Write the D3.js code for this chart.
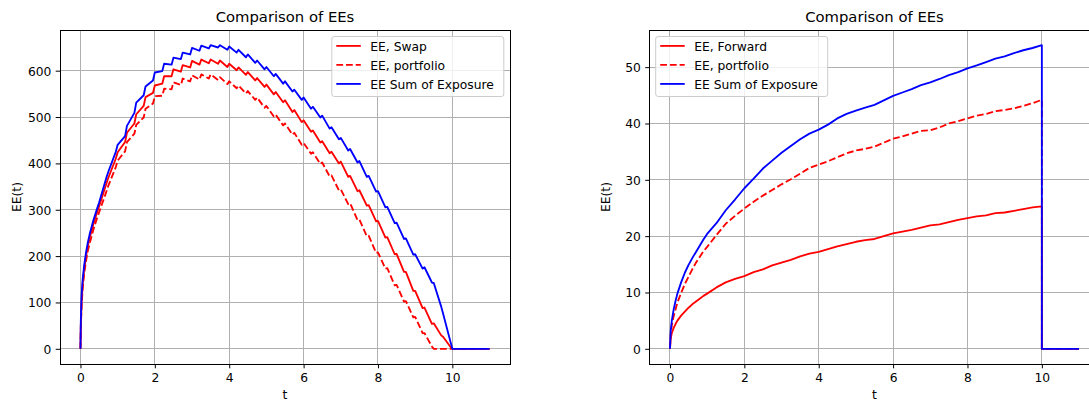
<!DOCTYPE html>
<html>
<head>
<meta charset="utf-8">
<script src="https://cdn.jsdelivr.net/npm/d3@7"></script>
<style>
  html, body { margin: 0; padding: 0; background: #ffffff; }
  svg { display: block; font-family: "DejaVu Sans", sans-serif; }
</style>
</head>
<body>
<svg id="chart" width="1089" height="400"></svg>
<script>
// ---- Swap panel: time grid and expected exposures ----
const swapTime = [0,0.01,0.03,0.06,0.1,0.15,0.2,0.25,0.35,0.45,
  0.5,0.7,0.75,0.95,1,1.2,1.25,1.45,1.5,1.7,1.75,1.95,2,2.2,2.25,2.45,2.5,2.7,2.75,2.95,
  3,3.2,3.25,3.45,3.5,3.7,3.75,3.95,4,4.2,4.25,4.45,4.5,4.7,4.75,4.95,5,5.2,5.25,5.45,
  5.5,5.7,5.75,5.95,6,6.2,6.25,6.45,6.5,6.7,6.75,6.95,7,7.2,7.25,7.45,7.5,7.7,7.75,7.95,
  8,8.2,8.25,8.45,8.5,8.7,8.75,8.95,9,9.2,9.25,9.45,9.5,9.7,9.75,9.95,10,11];
const eeSwap = [0,50,100,140,172,200,222,240,270,295,
  307,357,369,410,424,446,466,486,506,524,543,552,568,572,588,588,603,598,612,607,
  621,613,624,616,624,615,622,608,615,601,607,591,597,579,584,565,570,549,554,532,
  536,511,515,489,493,468,471,445,448,422,425,400,404,371,373,340,342,309,310,275,
  276,240,241,204,205,166,166,125,125,88,89,54,55,29,26,4,0,0];
const eeSwapPortfolio = [0,45,92,130,162,190,212,228,258,283,
  294,340,352,392,406,426,446,464,483,499,518,529,545,546,561,560,575,569,583,577,
  590,581,592,583,592,580,586,571,577,562,568,551,556,537,542,520,524,501,505,482,
  486,462,466,440,444,421,424,399,402,372,374,342,344,312,314,278,279,243,244,207,
  208,173,174,137,138,102,103,68,69,34,34,5,0,0,0,0,0,0];
const eeSwapSum = [0,60,115,150,180,208,230,248,278,303,
  315,370,382,425,440,459,481,509,531,547,566,579,596,599,615,613,628,625,639,635,
  649,643,654,648,655,650,655,645,652,639,645,629,635,617,622,603,608,588,593,572,
  577,555,559,537,542,518,522,499,503,475,478,452,455,428,431,402,405,371,373,339,
  340,305,306,271,272,237,238,203,204,173,176,143,142,91,76,15,0,0];

// ---- Forward panel: time grid and expected exposures ----
const fwdTime = [0,0.02,0.05,0.1,0.15,0.2,0.3,0.4,0.5,0.6,0.7,0.8,0.9,
  1,1.25,1.5,1.75,2,2.25,2.5,2.75,3,3.25,3.5,3.75,4,4.25,4.5,4.75,5,5.25,5.5,5.75,
  6,6.25,6.5,6.75,7,7.25,7.5,7.75,8,8.25,8.5,8.75,9,9.25,9.5,9.75,10,10,11];
const eeForward = [0,1.8,2.8,3.7,4.4,5.0,5.9,6.6,7.3,7.9,8.4,8.9,9.4,
  9.8,10.9,11.8,12.4,12.9,13.6,14.1,14.8,15.3,15.8,16.4,16.9,17.2,17.7,18.2,18.6,19.0,19.3,19.5,20.0,
  20.5,20.8,21.1,21.5,21.9,22.1,22.5,22.9,23.2,23.5,23.7,24.1,24.2,24.5,24.8,25.1,25.3,0,0];
const eeFwdPortfolio = [0,2.5,4.2,5.8,7.0,8.2,9.9,11.5,12.8,14.1,15.3,16.3,17.3,
  18.1,20.2,22.2,23.6,24.9,26.1,27.2,28.2,29.2,30.1,31.1,32.1,32.7,33.3,34.0,34.7,35.2,35.5,35.9,36.6,
  37.3,37.7,38.2,38.7,38.8,39.3,40.0,40.4,40.9,41.4,41.7,42.2,42.4,42.7,43.1,43.6,44.2,0,0];
const eeFwdSum = [0,3.2,5.0,7.0,8.5,9.8,11.8,13.5,14.9,16.1,17.2,18.3,19.4,
  20.4,22.3,24.6,26.5,28.5,30.2,32.0,33.4,34.8,36.0,37.2,38.2,38.9,39.8,40.9,41.7,42.3,42.8,43.3,44.1,
  44.9,45.5,46.1,46.8,47.3,47.9,48.6,49.1,49.8,50.3,50.9,51.5,51.9,52.5,53.0,53.4,53.9,0,0];

// ---- Ticks and labels ----
const xTicks = [0, 2, 4, 6, 8, 10];
const swapYTicks = [0, 100, 200, 300, 400, 500, 600];
const fwdYTicks = [0, 10, 20, 30, 40, 50];
const titleText = "Comparison of EEs";
const xLabel = "t";
const yLabel = "EE(t)";
const swapLegend = ["EE, Swap", "EE, portfolio", "EE Sum of Exposure"];
const fwdLegend = ["EE, Forward", "EE, portfolio", "EE Sum of Exposure"];

const svg = d3.select("#chart");
const FS = 12.3;       // tick / label / legend font size
const TITLE_FS = 14.8;

function paddedExtent(arrays) {
  const all = arrays.flat();
  const [lo, hi] = d3.extent(all);
  const m = (hi - lo) * 0.05;
  return [lo - m, hi + m];
}

function drawPanel(cfg) {
  const { left, top, width, height, time, series, yTicks, legend, legendSide } = cfg;
  const g = svg.append("g");

  const x = d3.scaleLinear().domain(paddedExtent([time])).range([left, left + width]);
  const y = d3.scaleLinear().domain(paddedExtent(series.map(s => s.values))).range([top + height, top]);

  const clipId = "clip" + Math.round(left);
  svg.append("clipPath").attr("id", clipId)
    .append("rect").attr("x", left).attr("y", top).attr("width", width).attr("height", height);

  // grid
  const grid = g.append("g").attr("stroke", "#b0b0b0").attr("stroke-width", 1).attr("shape-rendering", "crispEdges");
  xTicks.forEach(t => grid.append("line").attr("x1", x(t)).attr("x2", x(t)).attr("y1", top).attr("y2", top + height));
  yTicks.forEach(v => grid.append("line").attr("x1", left).attr("x2", left + width).attr("y1", y(v)).attr("y2", y(v)));

  // series
  const lines = g.append("g").attr("clip-path", `url(#${clipId})`);
  series.forEach(s => {
    const line = d3.line().x((d, i) => x(time[i])).y(d => y(d));
    lines.append("path")
      .datum(s.values)
      .attr("d", line)
      .attr("fill", "none")
      .attr("stroke", s.color)
      .attr("stroke-width", 1.85)
      .attr("stroke-linejoin", "round")
      .attr("stroke-dasharray", s.dashed ? "6.8,2.9" : null);
  });

  // axes
  const xAxis = d3.axisBottom(x).tickValues(xTicks).tickFormat(d3.format("d")).tickSize(4.3).tickPadding(5.3);
  const yAxis = d3.axisLeft(y).tickValues(yTicks).tickFormat(d3.format("d")).tickSize(4.3).tickPadding(4.3);
  const gx = g.append("g").attr("transform", `translate(0,${top + height})`).call(xAxis);
  const gy = g.append("g").attr("transform", `translate(${left},0)`).call(yAxis);
  [gx, gy].forEach(ax => {
    ax.select(".domain").remove();
    ax.selectAll("line").attr("stroke", "#000").attr("stroke-width", 1);
    ax.selectAll("text").attr("font-size", FS).attr("font-family", "DejaVu Sans").attr("fill", "#000");
  });
  gy.selectAll("text").attr("dy", "0.36em");

  // frame
  g.append("rect")
    .attr("x", left).attr("y", top).attr("width", width).attr("height", height)
    .attr("fill", "none").attr("stroke", "#000").attr("stroke-width", 1)
    .attr("shape-rendering", "crispEdges");

  // title and axis labels
  g.append("text").attr("x", left + width / 2).attr("y", 21.5)
    .attr("text-anchor", "middle").attr("font-size", TITLE_FS).text(titleText);
  g.append("text").attr("x", left + width / 2).attr("y", 398.5)
    .attr("text-anchor", "middle").attr("font-size", FS).text(xLabel);
  g.append("text")
    .attr("transform", `translate(${left - 39.5},${top + height / 2}) rotate(-90)`)
    .attr("text-anchor", "middle").attr("font-size", FS).text(yLabel);

  // legend
  const boxW = 172, boxH = 60, pad = 6.2;
  const bx = legendSide === "right" ? left + width - pad - boxW : left + pad;
  const by = top + 6.5;
  const lg = g.append("g");
  lg.append("rect").attr("x", bx).attr("y", by).attr("width", boxW).attr("height", boxH)
    .attr("rx", 2.5).attr("fill", "#ffffff").attr("fill-opacity", 0.8)
    .attr("stroke", "#cccccc").attr("stroke-width", 1);
  series.forEach((s, i) => {
    const ly = by + 9.4 + i * 19;
    lg.append("line").attr("x1", bx + 4.5).attr("x2", bx + 29).attr("y1", ly).attr("y2", ly)
      .attr("stroke", s.color).attr("stroke-width", 1.85)
      .attr("stroke-dasharray", s.dashed ? "6.8,2.9" : null);
    lg.append("text").attr("x", bx + 38.5).attr("y", by + 14 + i * 19)
      .attr("font-size", FS).attr("fill", "#000").text(legend[i]);
  });
}

drawPanel({
  left: 60, top: 30, width: 450, height: 334,
  time: swapTime,
  series: [
    { values: eeSwap, color: "#ff0000", dashed: false },
    { values: eeSwapPortfolio, color: "#ff0000", dashed: true },
    { values: eeSwapSum, color: "#0000ff", dashed: false }
  ],
  yTicks: swapYTicks, legend: swapLegend, legendSide: "right"
});

drawPanel({
  left: 649.5, top: 30, width: 450, height: 334,
  time: fwdTime,
  series: [
    { values: eeForward, color: "#ff0000", dashed: false },
    { values: eeFwdPortfolio, color: "#ff0000", dashed: true },
    { values: eeFwdSum, color: "#0000ff", dashed: false }
  ],
  yTicks: fwdYTicks, legend: fwdLegend, legendSide: "left"
});
</script>
</body>
</html>
